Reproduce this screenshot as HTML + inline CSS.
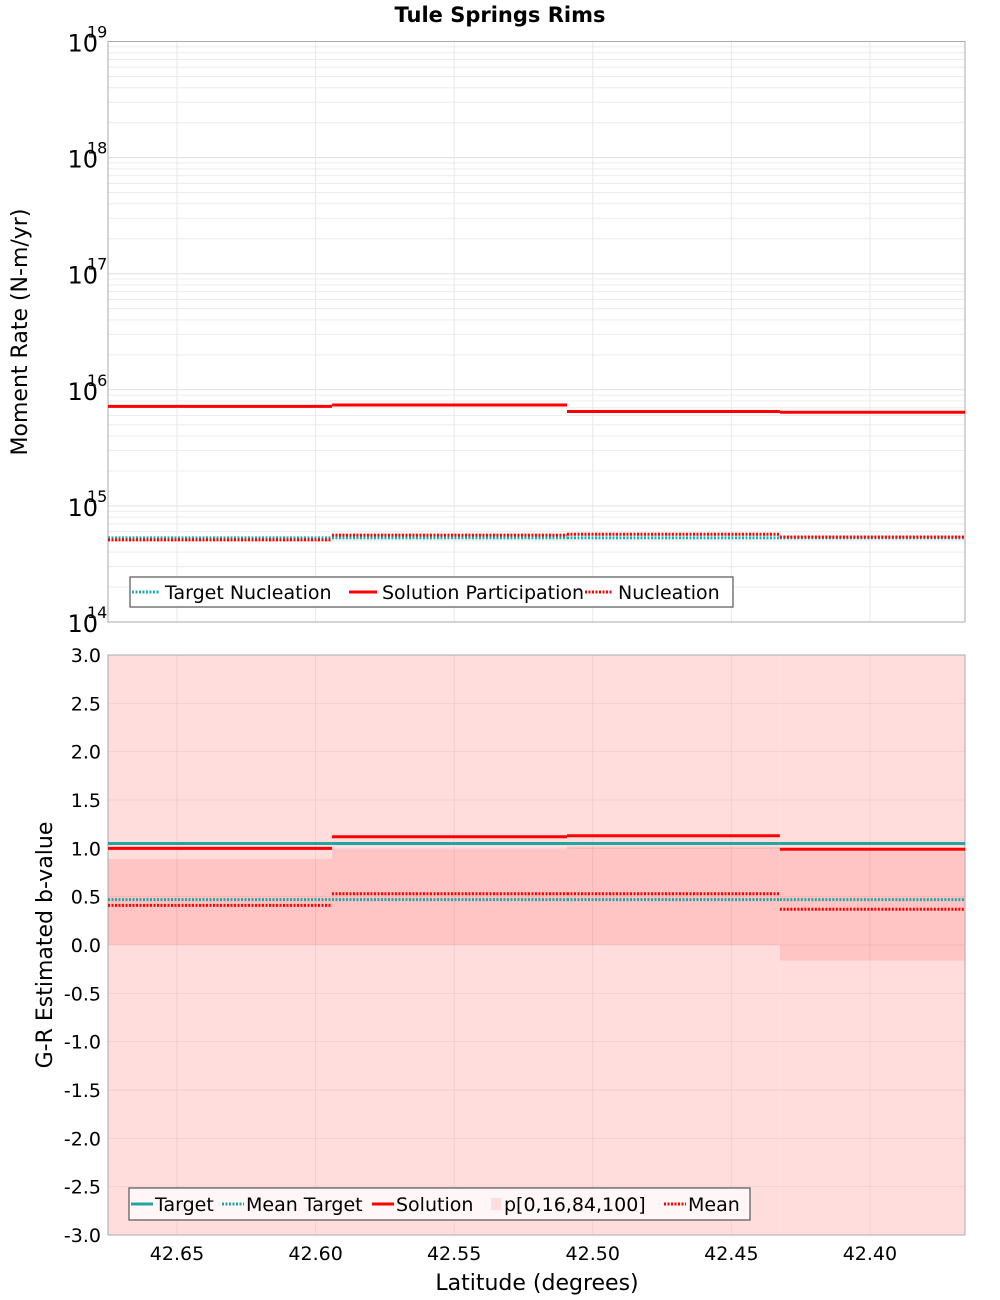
<!DOCTYPE html>
<html><head><meta charset="utf-8"><style>
body{margin:0;background:#fff;}
svg{display:block;font-family:"DejaVu Sans","Liberation Sans",sans-serif;}
</style></head><body>
<svg id="chart" width="1000" height="1300" viewBox="0 0 1000 1300" xmlns="http://www.w3.org/2000/svg">
<text x="500" y="22" text-anchor="middle" font-size="21" font-weight="bold">Tule Springs Rims</text>
<g id="topg"></g>
<g id="botg"></g>
<text transform="translate(27,332) rotate(-90)" text-anchor="middle" font-size="22">Moment Rate (N-m/yr)</text>
<text transform="translate(52,945) rotate(-90)" text-anchor="middle" font-size="22">G-R Estimated b-value</text>
<text x="537" y="1290" text-anchor="middle" font-size="22">Latitude (degrees)</text>
</svg>
<script>
const edges = [42.6749, 42.5941, 42.5093, 42.4325, 42.3657];
const xTicks = [42.65, 42.60, 42.55, 42.50, 42.45, 42.40];
const targetNucleation = [5.3e14, 5.3e14, 5.3e14, 5.3e14];
const solutionParticipation = [7.2e15, 7.4e15, 6.5e15, 6.4e15];
const nucleation = [5.1e14, 5.6e14, 5.7e14, 5.4e14];
const topDecades = [14, 15, 16, 17, 18, 19];
const bTarget = [1.05, 1.05, 1.05, 1.05];
const bMeanTarget = [0.47, 0.47, 0.47, 0.47];
const bSolution = [1.0, 1.12, 1.13, 0.99];
const bMean = [0.41, 0.53, 0.53, 0.37];
const p0 = [-3, -3, -3, -3];
const p16 = [0.0, 0.0, 0.0, -0.16];
const p84 = [0.89, 0.99, 1.02, 0.97];
const p100 = [3, 3, 3, 3];
const bTicks = [3.0, 2.5, 2.0, 1.5, 1.0, 0.5, 0.0, -0.5, -1.0, -1.5, -2.0, -2.5, -3.0];

const NS = "http://www.w3.org/2000/svg";
const L = 108, R = 965;
const xS = v => L + (edges[0] - v) / (edges[0] - edges[edges.length - 1]) * (R - L);
const T1 = 41.5, B1 = 622;
const yTop = v => B1 - (Math.log10(v) - 14) / 5 * (B1 - T1);
const T2 = 655, B2 = 1235;
const yBot = v => B2 - (v + 3) / 6 * (B2 - T2);

function mk(parent, tag, attrs) {
  const e = document.createElementNS(NS, tag);
  for (const k in attrs) e.setAttribute(k, attrs[k]);
  parent.appendChild(e);
  return e;
}
const gTop = document.getElementById('topg');
const gBot = document.getElementById('botg');

for (let d = 14; d < 19; d++) {
  for (let m = 2; m <= 9; m++) {
    const ln = mk(gTop, 'line', {x1: L, x2: R, y1: yTop(m * Math.pow(10, d)), y2: yTop(m * Math.pow(10, d)), stroke: '#ececec', 'stroke-width': 1});
    
    
  }
}
topDecades.forEach(d => {
  const y = yTop(Math.pow(10, d));
  const g = mk(gTop, 'line', {x1: L, x2: R, y1: y, y2: y, stroke: '#e0e0e0', 'stroke-width': 1});
  
  
  const t = mk(gTop, 'text', {x: 98, y: y + 10, 'text-anchor': 'end', 'font-size': 24});
  t.textContent = '10';
  
  
  const s = mk(gTop, 'text', {x: 87, y: y - 4, 'font-size': 16});
  s.textContent = String(d);
  
  
});
xTicks.forEach(v => {
  const g = mk(gTop, 'line', {x1: xS(v), x2: xS(v), y1: T1, y2: B1, stroke: '#e8e8e8', 'stroke-width': 1});
  
  
});
const f1 = mk(gTop, 'rect', {x: L, y: T1, width: R - L, height: B1 - T1, fill: 'none', stroke: '#aaa', 'stroke-width': 1});



function steps(parent, arr, ys, color, w, dash, name) {
  arr.forEach((v, i) => {
    const a = {x1: xS(edges[i]), x2: xS(edges[i + 1]), y1: ys(v), y2: ys(v), stroke: color, 'stroke-width': w};
    if (dash) a['stroke-dasharray'] = dash;
    const ln = mk(parent, 'line', a);
    
    
  });
}
steps(gTop, targetNucleation, yTop, '#17b0b0', 3, '2,1.5', 'target-nucleation-segment');
steps(gTop, solutionParticipation, yTop, '#ff0000', 3, null, 'solution-participation-segment');
steps(gTop, nucleation, yTop, '#ff0000', 3, '2,1.5', 'nucleation-segment');

const lg1 = mk(gTop, 'g', {});


mk(lg1, 'rect', {x: 130, y: 577, width: 603, height: 30, fill: '#fff', stroke: '#555', 'stroke-width': 1.2});
const leg1 = [['Target Nucleation', '#17b0b0', '2,1.5', 132], ['Solution Participation', '#ff0000', null, 349], ['Nucleation', '#ff0000', '2,1.5', 585]];
leg1.forEach(([txt, c, d, x]) => {
  const a = {x1: x, x2: x + 28, y1: 592, y2: 592, stroke: c, 'stroke-width': 3};
  if (d) a['stroke-dasharray'] = d;
  const ln = mk(lg1, 'line', a);
  
  
  const t = mk(lg1, 'text', {x: x + 33, y: 599, 'font-size': 19});
  t.textContent = txt;
  
  
});

const bg = mk(gBot, 'rect', {x: L, y: T2, width: R - L, height: B2 - T2, fill: '#fff'});


p0.forEach((v, i) => {
  const r = mk(gBot, 'rect', {x: xS(edges[i]), y: yBot(p100[i]), width: xS(edges[i + 1]) - xS(edges[i]), height: yBot(v) - yBot(p100[i]), fill: '#ffdddd'});
  
  
});
p16.forEach((v, i) => {
  const r = mk(gBot, 'rect', {x: xS(edges[i]), y: yBot(p84[i]), width: xS(edges[i + 1]) - xS(edges[i]), height: yBot(v) - yBot(p84[i]), fill: '#ffc4c4'});
  
  
});
bTicks.forEach(v => {
  const y = yBot(v);
  const g = mk(gBot, 'line', {x1: L, x2: R, y1: y, y2: y, stroke: 'rgba(0,0,0,0.06)', 'stroke-width': 1});
  
  
  const t = mk(gBot, 'text', {x: 101, y: y + 7, 'text-anchor': 'end', 'font-size': 19});
  t.textContent = v.toFixed(1);
  
  
});
xTicks.forEach(v => {
  const g = mk(gBot, 'line', {x1: xS(v), x2: xS(v), y1: T2, y2: B2, stroke: 'rgba(0,0,0,0.06)', 'stroke-width': 1});
  
  
  const t = mk(gBot, 'text', {x: xS(v), y: 1260, 'text-anchor': 'middle', 'font-size': 19});
  t.textContent = v.toFixed(2);
  
  
});
const f2 = mk(gBot, 'rect', {x: L, y: T2, width: R - L, height: B2 - T2, fill: 'none', stroke: '#aaa', 'stroke-width': 1});


steps(gBot, bTarget, yBot, '#20a5a0', 3, null, 'target-segment');
steps(gBot, bMeanTarget, yBot, '#20a5a0', 3, '2,1.5', 'mean-target-segment');
steps(gBot, bSolution, yBot, '#ff0000', 3, null, 'solution-segment');
steps(gBot, bMean, yBot, '#ff0000', 3, '2,1.5', 'mean-segment');

const lg2 = mk(gBot, 'g', {});


mk(lg2, 'rect', {x: 129, y: 1188, width: 621, height: 32, fill: '#fff7f7', stroke: '#555', 'stroke-width': 1.2});
const leg2 = [['Target', '#20a5a0', null, 131, 'line'], ['Mean Target', '#20a5a0', '2,1.5', 222, 'line'], ['Solution', '#ff0000', null, 372, 'line'], ['p[0,16,84,100]', '#ffdddd', null, 491, 'box'], ['Mean', '#ff0000', '2,1.5', 664, 'line']];
leg2.forEach(([txt, c, d, x, kind]) => {
  let sw;
  if (kind === 'box') {
    sw = mk(lg2, 'rect', {x: x, y: 1198, width: 10, height: 12, fill: c});
  } else {
    const a = {x1: x, x2: x + 22, y1: 1204, y2: 1204, stroke: c, 'stroke-width': 3};
    if (d) a['stroke-dasharray'] = d;
    sw = mk(lg2, 'line', a);
  }
  
  
  const t = mk(lg2, 'text', {x: x + (kind === 'box' ? 13 : 24), y: 1211, 'font-size': 19});
  t.textContent = txt;
  
  
});
</script>
</body></html>
